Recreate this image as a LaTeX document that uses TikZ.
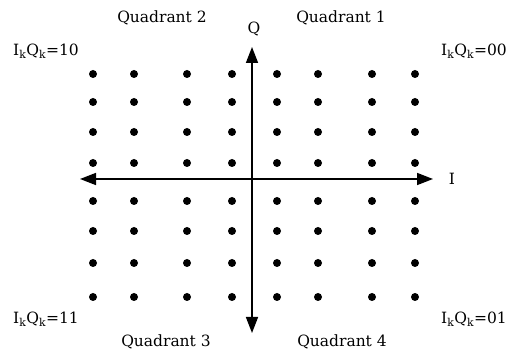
\documentclass[tikz,border=0pt]{standalone}
\usepackage{fontspec}
\setmainfont{DejaVu Serif}
\usetikzlibrary{arrows.meta}

\begin{document}
\begin{tikzpicture}[x=1pt,y=1pt,
        dot/.style={circle,fill=black,inner sep=0pt,minimum size=8pt},
        lbl/.style={font=\fontsize{15.5}{18}\selectfont,inner sep=0pt},
        axis/.style={line width=1.6pt,-{Triangle[length=16pt,width=12pt]}}]
        \useasboundingbox (0,0) rectangle (513,355);
        % axes
        \coordinate (west) at (80,176);
        \coordinate (east) at (433,176);
        \coordinate (north) at (252,308);
        \coordinate (south) at (252,22);
        \coordinate (origin) at (252,176);
        \draw[axis] (origin) -- (east);
        \draw[axis] (origin) -- (west);
        \draw[axis] (origin) -- (north);
        \draw[axis] (origin) -- (south);
        \node[lbl] (ilabel) at (452,176) {I};
        \node[lbl] (qlabel) at (254,326) {Q};
        % constellation points
        \foreach \x [count=\i] in {93,134,187,232,277,318,372,415} {
            \foreach \y [count=\j] in {281,253,223,192,154,124,92,58} {
                \node[dot] (p\i\j) at (\x,\y) {};
            }
        }
        \node[lbl] (quad2) at (162,337) {Quadrant 2};
        \node[lbl] (quad1) at (341,337) {Quadrant 1};
        \node[lbl] (quad3) at (166,13) {Quadrant 3};
        \node[lbl] (quad4) at (342,13) {Quadrant 4};
        \node[lbl] (code10) at (46,304) {I\textsubscript{k}Q\textsubscript{k}=10};
        \node[lbl] (code00) at (474,304) {I\textsubscript{k}Q\textsubscript{k}=00};
        \node[lbl] (code11) at (46,36) {I\textsubscript{k}Q\textsubscript{k}=11};
        \node[lbl] (code01) at (474,36) {I\textsubscript{k}Q\textsubscript{k}=01};
    \end{tikzpicture}
\end{document}
